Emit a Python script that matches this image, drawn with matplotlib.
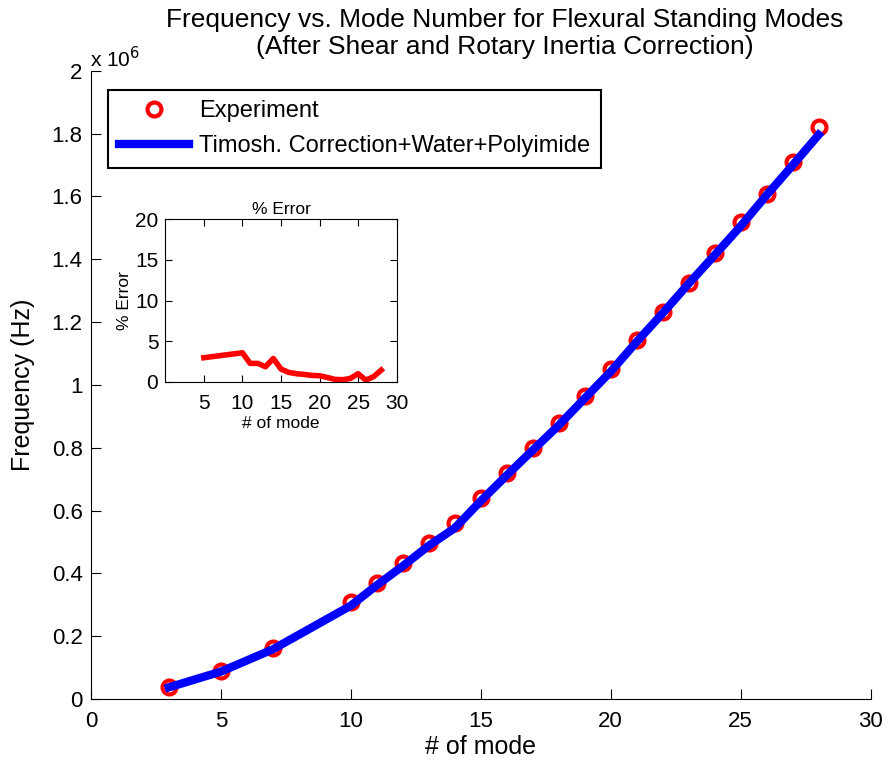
import numpy as np
import matplotlib
matplotlib.use("Agg")
import matplotlib.pyplot as plt

plt.rcParams['font.family'] = ['Liberation Sans', 'DejaVu Sans']

# mode numbers and measured / modelled frequency (units of 1e6 Hz)
modes = [3, 5, 7, 10, 11, 12, 13, 14, 15, 16, 17, 18, 19, 20, 21, 22, 23, 24, 25, 26, 27, 28]
freq_exp = [0.038, 0.090, 0.163, 0.308, 0.370, 0.433, 0.497, 0.560, 0.640, 0.720, 0.800,
            0.879, 0.965, 1.050, 1.143, 1.232, 1.325, 1.419, 1.520, 1.607, 1.710, 1.822]
freq_theory = [0.037, 0.087, 0.158, 0.297, 0.362, 0.423, 0.488, 0.544, 0.630, 0.712, 0.792,
               0.871, 0.957, 1.042, 1.137, 1.228, 1.322, 1.413, 1.505, 1.604, 1.699, 1.796]

# percent error (inset)
err_modes = [5, 7, 10, 11, 12, 13, 14, 15, 16, 17, 18, 19, 20, 21, 22, 23, 24, 25, 26, 27, 28]
err_pct = [2.96, 3.2, 3.57, 2.26, 2.26, 1.85, 2.87, 1.56, 1.15, 0.99, 0.9, 0.78, 0.74,
           0.53, 0.29, 0.25, 0.41, 0.99, 0.2, 0.62, 1.44]

fig = plt.figure(figsize=(8.91, 7.67), dpi=100)
ax = fig.add_axes([0.102, 0.0887, 0.875, 0.819])

ax.plot(modes, freq_exp, 'o', color='red', mfc='none', ms=10, mew=3, label='Experiment', zorder=2)
ax.plot(modes, freq_theory, '-', color='blue', lw=6, label='Timosh. Correction+Water+Polyimide', zorder=3)

ax.set_xlim(0, 30)
ax.set_ylim(0, 2)
ax.set_xticks(np.arange(0, 31, 5))
ax.set_yticks(np.arange(0, 2.01, 0.2))
ax.set_yticklabels(['0', '0.2', '0.4', '0.6', '0.8', '1', '1.2', '1.4', '1.6', '1.8', '2'])
ax.spines['top'].set_visible(False)
ax.spines['right'].set_visible(False)
ax.tick_params(direction='in', length=7, labelsize=16)
ax.tick_params(axis='x', pad=9)
ax.tick_params(axis='y', pad=6)
ax.set_xlabel('# of mode', fontsize=18, labelpad=2)
ax.set_ylabel('Frequency (Hz)', fontsize=18, labelpad=12)
ax.set_title('Frequency vs. Mode Number for Flexural Standing Modes\n(After Shear and Rotary Inertia Correction)',
             fontsize=19, pad=12, linespacing=1.15, x=0.531)
fig.text(0.101, 0.912, r'x 10$^6$', fontsize=15, va='baseline')

leg = ax.legend(loc='upper left', bbox_to_anchor=(0.0218, 0.9697), borderaxespad=0, fontsize=17,
                fancybox=False, edgecolor='black', framealpha=1, handlelength=3.0,
                handletextpad=0.4, borderpad=0.45, labelspacing=0.55)
leg.get_frame().set_linewidth(1.5)

# inset with percent error
ins = fig.add_axes([0.1855, 0.5023, 0.2597, 0.2117])
ins.plot(err_modes, err_pct, '-', color='red', lw=4)
ins.set_xlim(0, 30)
ins.set_ylim(0, 20)
ins.set_xticks([5, 10, 15, 20, 25, 30])
ins.set_yticks([0, 5, 10, 15, 20])
ins.tick_params(direction='in', length=5, labelsize=15, top=True, right=True)
ins.tick_params(axis='x', pad=9)
ins.tick_params(axis='y', pad=5)
ins.set_title('% Error', fontsize=12.5, pad=4)
ins.set_xlabel('# of mode', fontsize=12.5, labelpad=2)
ins.set_ylabel('% Error', fontsize=12.5, labelpad=2)

fig.savefig('out.png', dpi=100)
